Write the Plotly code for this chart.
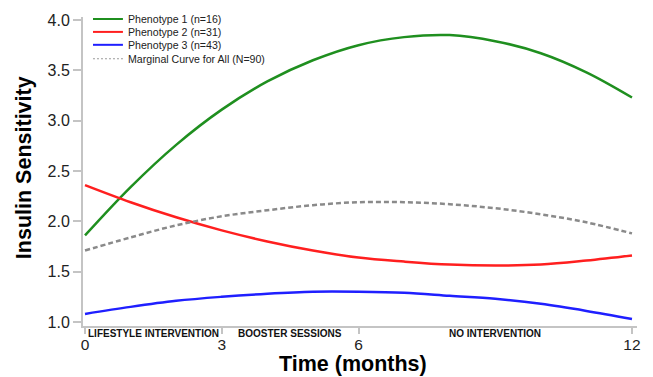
import plotly.graph_objects as go

# Months since baseline
months = [0, 1, 2, 3, 4, 5, 6, 7, 8, 9, 10, 11, 12]

# Estimated insulin sensitivity trajectories per phenotype
phenotype1 = [1.86, 2.34, 2.76, 3.11, 3.39, 3.60, 3.75, 3.83, 3.85, 3.79, 3.67, 3.48, 3.23]
phenotype2 = [2.36, 2.19, 2.04, 1.91, 1.80, 1.71, 1.64, 1.60, 1.57, 1.56, 1.57, 1.61, 1.66]
phenotype3 = [1.08, 1.15, 1.21, 1.25, 1.28, 1.30, 1.30, 1.29, 1.26, 1.23, 1.18, 1.11, 1.03]
marginal_all = [1.71, 1.84, 1.96, 2.05, 2.11, 2.16, 2.19, 2.19, 2.17, 2.13, 2.07, 1.99, 1.88]

series_names = ["Phenotype 1 (n=16)", "Phenotype 2 (n=31)", "Phenotype 3 (n=43)",
                "Marginal Curve for All (N=90)"]
series_values = [phenotype1, phenotype2, phenotype3, marginal_all]
series_colors = ["#1f8f1f", "#ff1f1f", "#1f1fff", "#8a8a8a"]
series_dash = ["solid", "solid", "solid", "5px,3px"]

# Study phases shown under the time axis
phase_labels = ["LIFESTYLE INTERVENTION", "BOOSTER SESSIONS", "NO INTERVENTION"]
phase_centers = [1.5, 4.5, 9]

x_ticks = [0, 3, 6, 12]
y_ticks = [1.0, 1.5, 2.0, 2.5, 3.0, 3.5, 4.0]

FONT = "Arial, Liberation Sans, sans-serif"

fig = go.Figure()
for name, vals, col, dash in zip(series_names, series_values, series_colors, series_dash):
    fig.add_trace(go.Scatter(
        x=months, y=vals, name=name, mode="lines",
        line=dict(color=col, width=2.5, dash=dash, shape="spline", smoothing=1.0),
        showlegend=False,
    ))

# Plot area geometry (pixels) used for the hand-built legend and titles
L, T, W, H = 83, 15, 555, 311


def px(xp):
    return (xp - L) / W


def py(yp):
    return (T + H - yp) / H


shapes = []
annotations = []

# Compact legend in the upper-left corner
legend_rows = [17, 30, 43, 57]
for name, col, dash, row in zip(series_names, series_colors, series_dash, legend_rows):
    shapes.append(dict(
        type="line", xref="paper", yref="paper",
        x0=px(93), x1=px(123), y0=py(row), y1=py(row),
        line=dict(color=col if dash == "solid" else "#9a9a9a",
                  width=2 if dash == "solid" else 1.2,
                  dash="solid" if dash == "solid" else "2px,2px"),
    ))
    annotations.append(dict(
        text=name, xref="paper", yref="paper", x=px(126), y=py(row),
        xanchor="left", yanchor="middle", showarrow=False,
        font=dict(family=FONT, size=10.6, color="#222222"),
    ))

# Phase labels between the time ticks
for lab, cx in zip(phase_labels, phase_centers):
    annotations.append(dict(
        text="<b>" + lab + "</b>", xref="x", yref="paper", x=cx, y=py(333.5),
        xanchor="center", yanchor="middle", showarrow=False,
        font=dict(family=FONT, size=10, color="#111111"),
    ))

# Axis titles
annotations.append(dict(
    text="<b>Time (months)</b>", xref="paper", yref="paper", x=px(353), y=py(364.5),
    xanchor="center", yanchor="middle", showarrow=False, borderpad=0,
    font=dict(family=FONT, size=21.5, color="#000000"),
))
annotations.append(dict(
    text="<b>Insulin Sensitivity</b>", xref="paper", yref="paper", x=px(24), y=py(167),
    xanchor="center", yanchor="middle", showarrow=False, textangle=-90,
    font=dict(family=FONT, size=21.5, color="#000000"),
))

fig.update_layout(
    width=653, height=377,
    margin=dict(l=L, r=653 - L - W, t=T, b=377 - T - H, pad=0),
    paper_bgcolor="white", plot_bgcolor="white",
    font=dict(family=FONT, color="#222222"),
    shapes=shapes, annotations=annotations,
    xaxis=dict(
        range=[-0.044, 12.11], tickvals=x_ticks, ticktext=[str(v) for v in x_ticks],
        showgrid=False, zeroline=False, showline=True, linecolor="#c4c4c4", linewidth=2,
        ticks="outside", ticklen=6, tickwidth=1.5, tickcolor="#c4c4c4",
        tickfont=dict(family=FONT, size=15.5, color="#222222"), ticklabelstandoff=-3,
    ),
    yaxis=dict(
        range=[0.96, 4.03], tickvals=y_ticks, ticktext=["%.1f" % v for v in y_ticks],
        showgrid=False, zeroline=False, showline=True, linecolor="#c4c4c4", linewidth=2,
        ticks="outside", ticklen=8, tickwidth=1.5, tickcolor="#c4c4c4",
        tickfont=dict(family=FONT, size=16, color="#222222"),
    ),
)

fig.write_html("out.html")
